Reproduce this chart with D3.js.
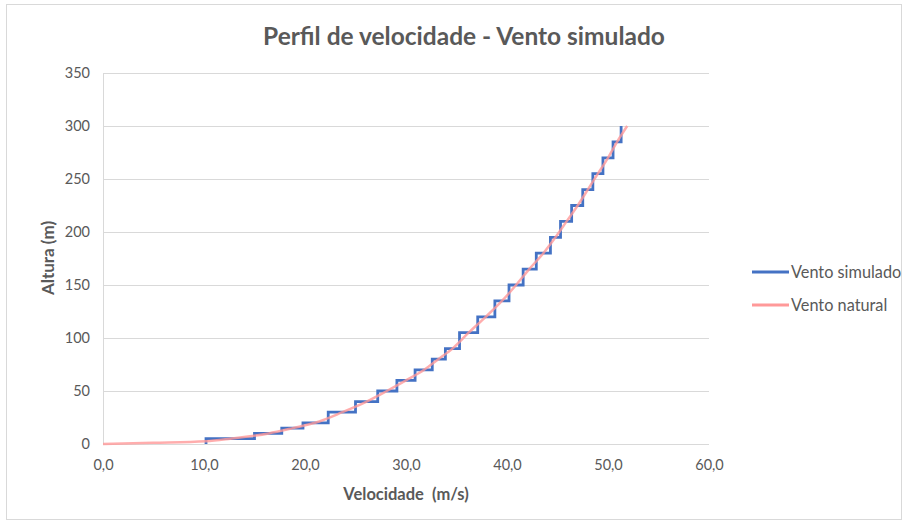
<!DOCTYPE html>
<html>
<head>
<meta charset="utf-8">
<script src="https://cdn.jsdelivr.net/npm/d3@7"></script>
<style>
  body { margin: 0; background: #fff; }
  svg { display: block; font-family: Lato, "Open Sans", sans-serif; }
</style>
</head>
<body>
<svg id="chart" width="906" height="524"></svg>
<script>
// Simulated wind: vertical transitions at velocity v reaching height h (step profile)
const simVel = [10.2, 10.2, 15.0, 17.7, 19.8, 22.3, 25.0, 27.2, 29.1, 30.9, 32.6, 33.9, 35.3, 37.1, 38.8, 40.2, 41.6, 42.9, 44.3, 45.3, 46.4, 47.5, 48.5, 49.5, 50.5, 51.3];
const simHeight = [0, 5, 10, 15, 20, 30, 40, 50, 60, 70, 80, 90, 105, 120, 135, 150, 165, 180, 195, 210, 225, 240, 255, 270, 285, 300];

// Natural wind profile
const natVel = [0, 5.0, 10.2, 12.6, 16.4, 18.8, 21.0, 23.7, 26.1, 28.1, 30.0, 31.8, 33.2, 34.6, 36.2, 37.9, 39.5, 40.9, 42.2, 43.6, 44.8, 45.9, 47.0, 48.0, 49.0, 50.0, 50.9, 51.9];
const natHeight = [0, 1.1, 2.6, 5, 10, 15, 20, 30, 40, 50, 60, 70, 80, 90, 105, 120, 135, 150, 165, 180, 195, 210, 225, 240, 255, 270, 285, 300];

const xTicks = [0, 10, 20, 30, 40, 50, 60];
const yTicks = [0, 50, 100, 150, 200, 250, 300, 350];
const seriesNames = ["Vento simulado", "Vento natural"];
const seriesColors = ["#4472c4", "#ff9999"];

const svg = d3.select("#chart");
const textColor = "#595959";
const gridColor = "#d9d9d9";

// outer chart border
svg.append("rect").attr("x", 6.5).attr("y", 4.5).attr("width", 895).attr("height", 515)
  .attr("fill", "none").attr("stroke", gridColor).attr("stroke-width", 1);

const x = d3.scaleLinear().domain([0, 60]).range([103, 709]);
const y = d3.scaleLinear().domain([0, 350]).range([444, 73]);

// gridlines
svg.append("g").selectAll("line").data(yTicks.filter(d => d > 0)).join("line")
  .attr("x1", x(0)).attr("x2", x(60))
  .attr("y1", d => Math.round(y(d)) + 0.5).attr("y2", d => Math.round(y(d)) + 0.5)
  .attr("stroke", gridColor).attr("stroke-width", 1);

// axes lines
svg.append("line").attr("x1", x(0) + 0.5).attr("x2", x(0) + 0.5).attr("y1", y(350)).attr("y2", y(0))
  .attr("stroke", gridColor);
svg.append("line").attr("x1", x(0)).attr("x2", x(60)).attr("y1", Math.round(y(0)) + 0.5).attr("y2", Math.round(y(0)) + 0.5)
  .attr("stroke", gridColor);

// Axes via d3
const fmt = d => d.toFixed(1).replace(".", ",");
const xAxis = d3.axisBottom(x).tickValues(xTicks).tickFormat(fmt).tickSize(0).tickPadding(16);
const gx = svg.append("g").attr("transform", `translate(0,${y(0)})`).call(xAxis);
gx.select(".domain").remove();
gx.selectAll("text").attr("fill", textColor).style("font-size", "14.5px").style("font-family", "Lato, sans-serif");

const yAxis = d3.axisLeft(y).tickValues(yTicks).tickFormat(d3.format("d")).tickSize(0).tickPadding(13);
const gy = svg.append("g").attr("transform", `translate(${x(0)},0)`).call(yAxis);
gy.select(".domain").remove();
gy.selectAll("text").attr("fill", textColor).style("font-size", "14.5px").style("font-family", "Lato, sans-serif");

// Series
const natData = natVel.map((v, i) => [v, natHeight[i]]);
const simPts = [];
for (let i = 0; i < simVel.length; i++) {
  simPts.push([simVel[i], simHeight[i]]);
  if (i + 1 < simVel.length) simPts.push([simVel[i + 1], simHeight[i]]);
}
const lineNat = d3.line().x(d => x(d[0])).y(d => y(d[1])).curve(d3.curveMonotoneX);
const lineSim = d3.line().x(d => x(d[0])).y(d => y(d[1]));

svg.append("path").datum(simPts).attr("d", lineSim)
  .attr("fill", "none").attr("stroke", seriesColors[0]).attr("stroke-width", 2.8).attr("stroke-linejoin", "miter");
svg.append("path").datum(natData).attr("d", lineNat)
  .attr("fill", "none").attr("stroke", seriesColors[1]).attr("stroke-width", 2.5).attr("stroke-opacity", 0.8);

// Title
svg.append("text").attr("x", 464).attr("y", 45).attr("text-anchor", "middle")
  .attr("fill", textColor).style("font-size", "24.5px").style("font-weight", "bold")
  .text("Perfil de velocidade - Vento simulado");

// Axis titles
svg.append("text").attr("x", 406).attr("y", 500).attr("text-anchor", "middle")
  .attr("fill", textColor).style("font-size", "16.5px").style("font-weight", "bold")
  .style("white-space", "pre")
  .text("Velocidade  (m/s)");
svg.append("text").attr("transform", "translate(54,258) rotate(-90)").attr("text-anchor", "middle")
  .attr("fill", textColor).style("font-size", "17px").style("font-weight", "bold")
  .text("Altura (m)");

// Legend
const legY = [272, 305];
const leg = svg.append("g");
seriesNames.forEach((name, i) => {
  leg.append("line").attr("x1", 752).attr("x2", 789).attr("y1", legY[i]).attr("y2", legY[i])
    .attr("stroke", seriesColors[i]).attr("stroke-width", 2.8);
  leg.append("text").attr("x", 791).attr("y", legY[i] + 5.5)
    .attr("fill", textColor).style("font-size", "16.3px").text(name);
});
</script>
</body>
</html>
